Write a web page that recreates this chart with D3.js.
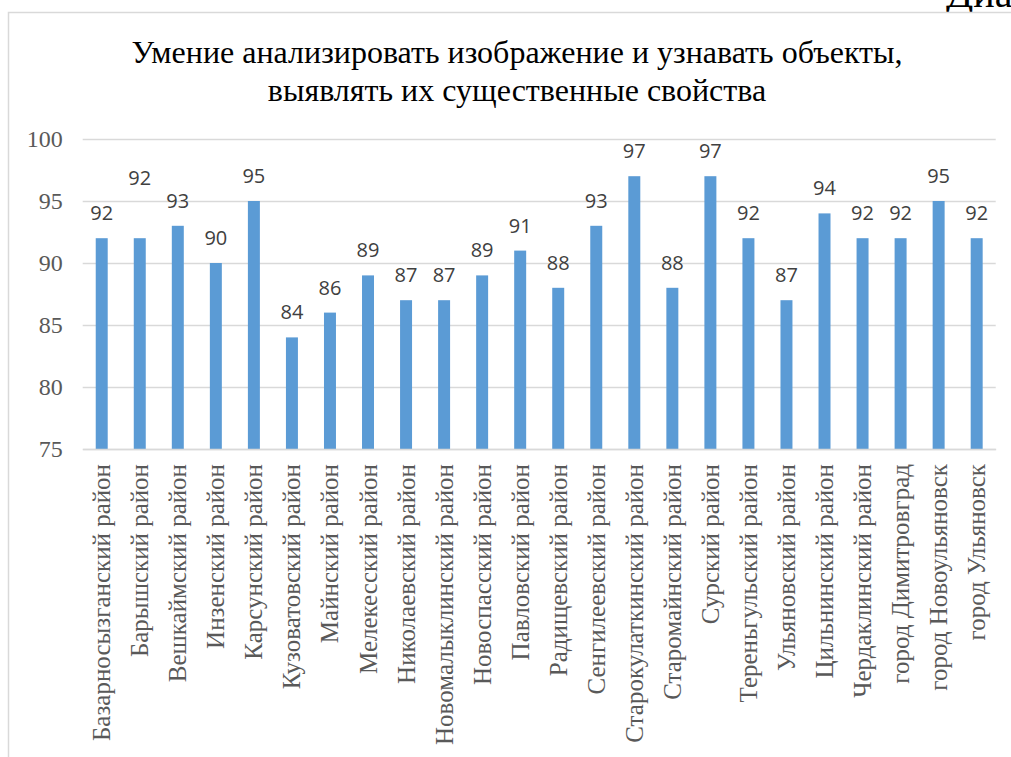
<!DOCTYPE html>
<html>
<head>
<meta charset="utf-8">
<script src="https://cdn.jsdelivr.net/npm/d3@7"></script>
<style>
  html, body { margin: 0; padding: 0; background: #ffffff; overflow: hidden; }
  svg { display: block; }
</style>
</head>
<body>
<svg id="chart" width="1011" height="757"></svg>
<script>
// ---- data ----
const titleLines = [
  "Умение анализировать изображение и узнавать объекты,",
  "выявлять их существенные свойства"
];
const categories = [
  "Базарносызганский район",
  "Барышский район",
  "Вешкаймский район",
  "Инзенский район",
  "Карсунский район",
  "Кузоватовский район",
  "Майнский район",
  "Мелекесский район",
  "Николаевский район",
  "Новомалыклинский район",
  "Новоспасский район",
  "Павловский район",
  "Радищевский район",
  "Сенгилеевский район",
  "Старокулаткинский район",
  "Старомайнский район",
  "Сурский район",
  "Тереньгульский район",
  "Ульяновский район",
  "Цильнинский район",
  "Чердаклинский район",
  "город Димитровград",
  "город Новоульяновск",
  "город Ульяновск"
];
const values = [92, 92, 93, 90, 95, 84, 86, 89, 87, 87, 89, 91, 88, 93, 97, 88, 97, 92, 87, 94, 92, 92, 95, 92];
const yTicks = [75, 80, 85, 90, 95, 100];
const yDomain = [75, 100];

// ---- drawing ----
const svg = d3.select("#chart");

// stray text of the surrounding document (clipped by the page edge, as in the reference)
svg.append("text")
  .attr("x", 946).attr("y", 7)
  .attr("font-family", "'Liberation Serif', 'Times New Roman', serif")
  .attr("font-size", 40)
  .attr("fill", "#000")
  .text("Диаграмма");

// chart frame
svg.append("rect")
  .attr("x", 8.5).attr("y", 12.5)
  .attr("width", 1200).attr("height", 900)
  .attr("fill", "#fff")
  .attr("stroke", "#d9d9d9").attr("stroke-width", 1.5);

// title
svg.append("g").selectAll("text")
  .data(titleLines)
  .join("text")
  .attr("x", 517)
  .attr("y", (d, i) => 63 + i * 38)
  .attr("text-anchor", "middle")
  .attr("font-family", "'Liberation Serif', 'Times New Roman', serif")
  .attr("font-size", 32)
  .attr("fill", "#000")
  .text(d => d);

const x = d3.scaleBand()
  .domain(categories)
  .range([82.7, 995.7])
  .paddingInner(0.685)
  .paddingOuter(0.3425);

const y = d3.scaleLinear()
  .domain(yDomain)
  .range([449, 139]);

// gridlines + value axis labels
const yAxis = d3.axisLeft(y).tickValues(yTicks).tickSize(-(995.7 - 82.7)).tickPadding(20).tickFormat(d3.format("d"));
const gy = svg.append("g")
  .attr("transform", "translate(82.7,0)")
  .call(yAxis);
gy.select(".domain").remove();
gy.selectAll(".tick line").attr("stroke", "#d9d9d9").attr("stroke-width", 1.5);
gy.selectAll(".tick text")
  .attr("font-family", "'Liberation Serif', 'Times New Roman', serif")
  .attr("font-size", 24)
  .attr("fill", "#595959");

// bars
svg.append("g").selectAll("rect")
  .data(values)
  .join("rect")
  .attr("x", (d, i) => x(categories[i]))
  .attr("y", d => y(d))
  .attr("width", x.bandwidth())
  .attr("height", d => y(yDomain[0]) - y(d))
  .attr("fill", "#5b9bd5");

// category axis
const xAxis = d3.axisBottom(x).tickSize(0).tickPadding(0);
const gx = svg.append("g")
  .attr("transform", "translate(0,449)")
  .call(xAxis);
gx.select(".domain").attr("stroke", "#d9d9d9").attr("stroke-width", 1.5);
gx.selectAll(".tick text")
  .attr("font-family", "'Liberation Serif', 'Times New Roman', serif")
  .attr("font-size", 25)
  .attr("fill", "#595959")
  .attr("text-anchor", "end")
  .attr("dy", null)
  .attr("y", 0)
  .attr("transform", "translate(0,15) rotate(-90)")
  .attr("dominant-baseline", "central");

// value labels (the second one is lifted in the reference to avoid a clash)
const liftedLabelIndex = 1;
svg.append("g").selectAll("text")
  .data(values)
  .join("text")
  .attr("x", (d, i) => x(categories[i]) + x.bandwidth() / 2)
  .attr("y", (d, i) => y(d) - 18 - (i === liftedLabelIndex ? 35 : 0))
  .attr("text-anchor", "middle")
  .attr("font-family", "'Open Sans', 'Noto Sans', sans-serif")
  .attr("font-size", 20)
  .attr("fill", "#404040")
  .text(d => d);
</script>
</body>
</html>
